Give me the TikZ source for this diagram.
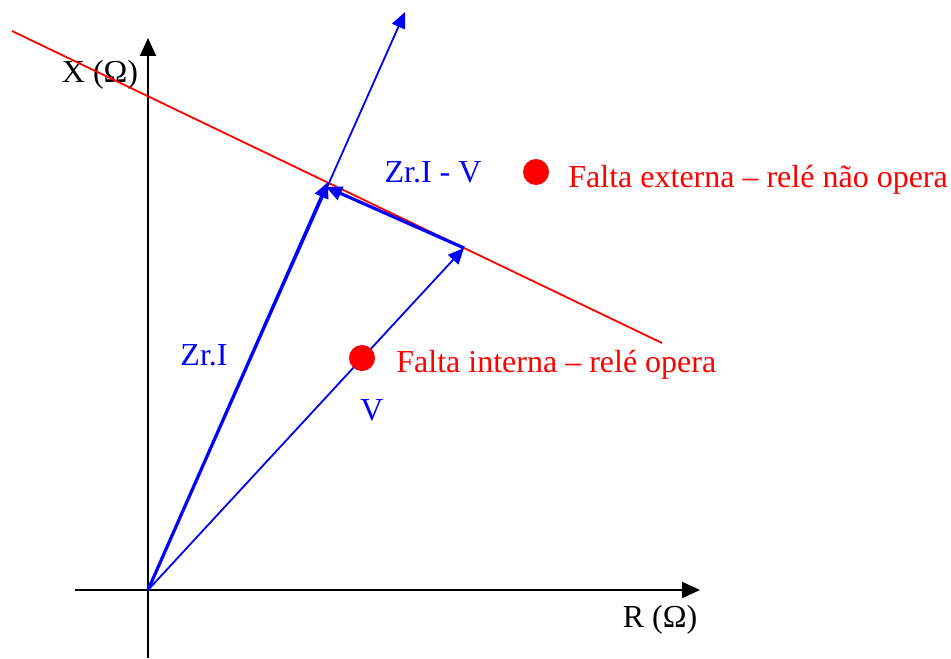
\documentclass[tikz,border=0pt]{standalone}
\usepackage{fontspec}
\setmainfont{Liberation Serif}
\usetikzlibrary{arrows.meta}
\definecolor{RXBlue}{HTML}{0000FF}
\definecolor{RXRed}{HTML}{FF0000}
\tikzset{
  axis/.style={-{Triangle[length=9pt,width=8pt]},black,line width=1.1pt},
  vec/.style={-{Triangle[length=8pt,width=7pt]},RXBlue,line width=0.9pt},
  vecthick/.style={vec,line width=1.6pt},
  reach/.style={RXRed,line width=0.9pt},
  fault/.style={circle,fill=RXRed,inner sep=0pt,minimum size=13pt},
  lbl/.style={font=\fontsize{16}{19}\selectfont,inner sep=1pt},
  lblblue/.style={lbl,text=RXBlue},
  lblred/.style={lbl,text=RXRed,anchor=west},
}
\begin{document}
\begin{tikzpicture}[x=0.5pt,y=-0.5pt]
    \useasboundingbox (0,0) rectangle (951,658);
    % axes
    \coordinate (O) at (148,590);
    \coordinate (xl) at (75,590);
    \coordinate (xr) at (700,590);
    \coordinate (yb) at (148,658);
    \coordinate (yt) at (148,38);
    \draw[axis] (xl) -- (xr);
    \draw[axis] (yb) -- (yt);
    \node[lbl] (rlab) at (660,620) {R (Ω)};
    \node[lbl] (xlab) at (100,75) {X (Ω)};

    % relay characteristic
    \coordinate (ca) at (12,31);
    \coordinate (cb) at (662,343);
    \draw[reach] (ca) -- (cb);

    % vectors
    \coordinate (ztip) at (405,12);
    \coordinate (zr) at (328,182);
    \coordinate (vtip) at (464,248);
    \coordinate (zv) at (326,187);
    \draw[vec] (O) -- (ztip);
    \draw[vecthick] (O) -- (zr);
    \draw[vec] (O) -- (vtip);
    \draw[vecthick] (vtip) -- (zv);
    \node[lblblue] (zlab) at (204,355) {Zr.I};
    \node[lblblue] (vlab) at (372,410) {V};
    \node[lblblue] (dlab) at (433,172) {Zr.I - V};

    % faults
    \node[fault] (fext) at (536,172) {};
    \node[lblred] (text) at (566,180) {Falta externa -- relé não opera};
    \node[fault] (fint) at (362,358) {};
    \node[lblred] (tint) at (394,365) {Falta interna -- relé opera};
\end{tikzpicture}
\end{document}
